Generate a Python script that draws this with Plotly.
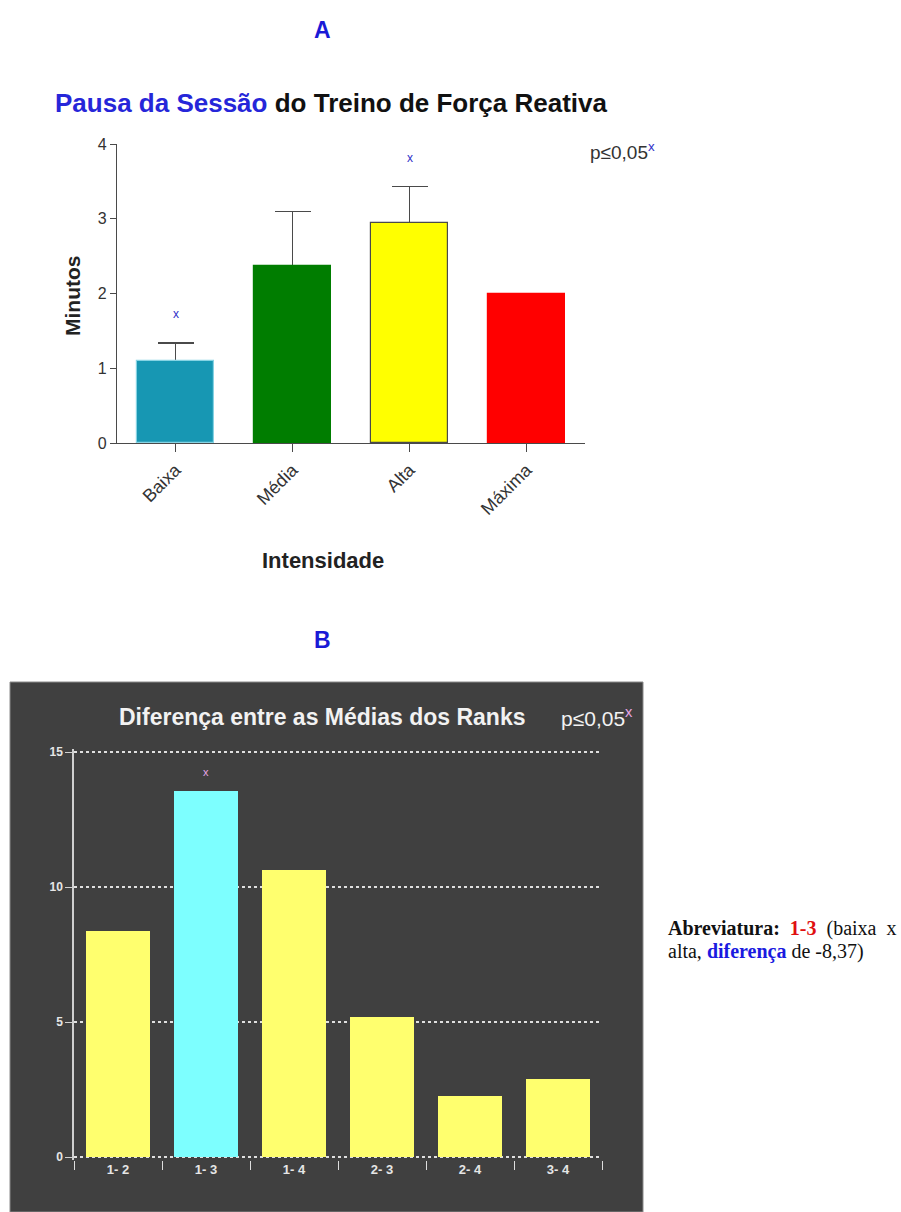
import plotly.graph_objects as go

W, H = 901, 1212

# ---- Panel A: session rest by intensity ----
intensidades = ["Baixa", "Média", "Alta", "Máxima"]
minutos = [1.10, 2.37, 2.94, 2.00]
erro_sup = [0.24, 0.73, 0.49, None]
cores_a = ["#1797b3", "#007d00", "#ffff00", "#ff0000"]
contorno_a = ["#86d3e3", "#007d00", "#4a4a4a", "#ff0000"]
signif_a = [True, False, True, False]

# ---- Panel B: differences between mean ranks ----
pares = ["1- 2", "1- 3", "1- 4", "2- 3", "2- 4", "3- 4"]
diferencas = [8.37, 13.58, 10.63, 5.19, 2.27, 2.89]
cores_b = ["#ffff6e", "#7dffff", "#ffff6e", "#ffff6e", "#ffff6e", "#ffff6e"]
signif_b = [False, True, False, False, False, False]

FONT = "Liberation Sans, Arial, sans-serif"
SERIF = "Liberation Serif, Times New Roman, serif"


def px(xp):
    return xp / W


def py(yp):
    return 1 - yp / H


def note(x, y, text, size, color, **kw):
    d = dict(x=px(x), y=py(y), xref="paper", yref="paper", text=text,
             showarrow=False, xanchor="center", yanchor="middle",
             font=dict(family=kw.pop("family", FONT), size=size, color=color))
    d.update(kw)
    return d


fig = go.Figure()

# error bars sit on a transparent copy so the coloured bars hide the lower cap
fig.add_trace(go.Bar(
    x=intensidades,
    y=[v if e is not None else None for v, e in zip(minutos, erro_sup)],
    width=0.66,
    marker=dict(color="rgba(0,0,0,0)", line=dict(width=0)),
    error_y=dict(type="data", symmetric=False,
                 array=[e if e is not None else 0 for e in erro_sup],
                 arrayminus=[0] * len(minutos),
                 color="#4a4a4a", thickness=1.3, width=18),
    xaxis="x", yaxis="y", showlegend=False, hoverinfo="skip",
))
fig.add_trace(go.Bar(
    x=intensidades, y=minutos, width=0.66,
    marker=dict(color=cores_a, line=dict(color=contorno_a, width=1.2)),
    xaxis="x", yaxis="y", showlegend=False,
))

fig.add_trace(go.Bar(
    x=pares, y=diferencas, width=0.72,
    marker=dict(color=cores_b, line=dict(width=0)),
    xaxis="x2", yaxis="y2", showlegend=False,
))

annotations = []

# significance marks, panel A (above the error bar)
for cat, v, e, s in zip(intensidades, minutos, erro_sup, signif_a):
    if s:
        annotations.append(dict(
            x=cat, y=v + (e or 0), xref="x", yref="y", text="x",
            showarrow=False, xanchor="center", yanchor="bottom", yshift=20,
            font=dict(family=FONT, size=12, color="#3030c8"),
        ))

# significance marks, panel B
for cat, v, s in zip(pares, diferencas, signif_b):
    if s:
        annotations.append(dict(
            x=cat, y=v, xref="x2", yref="y2", text="x",
            showarrow=False, xanchor="center", yanchor="bottom", yshift=10,
            font=dict(family=FONT, size=11, color="#e6a6e6"),
        ))

annotations += [
    note(322, 30, "<b>A</b>", 23, "#1a1ad6"),
    note(331, 103,
         "<b><span style='color:#2626d9'>Pausa da Sessão</span> do Treino de Força Reativa</b>",
         26, "#111111"),
    note(588, 151, "p≤0,05<sup><span style='color:#3030c8'>x</span></sup>", 19, "#333333",
         xanchor="left"),
    note(72, 296, "<b>Minutos</b>", 21, "#222222", textangle=-90),
    note(323, 560, "<b>Intensidade</b>", 22, "#222222"),
    note(322, 640, "<b>B</b>", 23, "#1a1ad6"),
    note(322, 717, "<b>Diferença entre as Médias dos Ranks</b>", 23, "#f2f2f2"),
    note(559, 717, "p≤0,05<sup><span style='color:#e6a6e6'>x</span></sup>", 21, "#f2f2f2",
         xanchor="left"),
    note(666, 928,
         "<b>Abreviatura:</b>&nbsp; <b><span style='color:#e01010'>1-3</span></b>&nbsp; "
         "(baixa&nbsp; x",
         20, "#111111", family=SERIF, xanchor="left", align="left"),
    note(666, 951,
         "alta, <b><span style='color:#1a1ae0'>diferença</span></b> de -8,37)",
         20, "#111111", family=SERIF, xanchor="left", align="left"),
]

# panel B y range padded slightly so the 0 and 15 dotted lines are drawn
ypad = 0.12
unit_b = (1157 - 752) / 15.0

fig.update_layout(
    width=W, height=H,
    margin=dict(l=0, r=0, t=0, b=0, pad=0, autoexpand=False),
    paper_bgcolor="white",
    plot_bgcolor="rgba(0,0,0,0)",
    barmode="overlay",
    bargap=0,
    annotations=annotations,
    shapes=[dict(type="rect", xref="paper", yref="paper", layer="below",
                 x0=px(10), x1=px(643), y0=py(1212), y1=py(682),
                 fillcolor="#404040", line=dict(color="#8a8a8a", width=1))],
    xaxis=dict(
        domain=[px(117), px(585)], range=[-0.5, 3.5], anchor="y", automargin=False,
        showline=True, linecolor="#4a4a4a", linewidth=1.3,
        ticks="outside", ticklen=8, tickcolor="#4a4a4a", tickwidth=1.2,
        tickangle=-45, showgrid=False, zeroline=False,
        tickfont=dict(family=FONT, size=18, color="#333333"),
    ),
    yaxis=dict(
        domain=[py(443.3), py(144)], range=[0, 4], anchor="x", automargin=False,
        tickvals=[0, 1, 2, 3, 4],
        showline=True, linecolor="#4a4a4a", linewidth=1.3,
        ticks="outside", ticklen=6, tickcolor="#4a4a4a", tickwidth=1.2,
        showgrid=False, zeroline=False,
        tickfont=dict(family=FONT, size=16, color="#333333"),
    ),
    xaxis2=dict(
        domain=[px(74), px(602)], range=[-0.5, 5.5], anchor="y2", automargin=False,
        tickvals=pares, ticktext=["<b>%s</b>" % p for p in pares],
        showline=False, ticks="outside", tickson="boundaries", ticklen=9,
        tickcolor="#dddddd", tickwidth=1.3, showgrid=False, zeroline=False,
        tickfont=dict(family=FONT, size=13, color="#e6e6e6"),
    ),
    yaxis2=dict(
        domain=[py(1157 + ypad * unit_b), py(752 - ypad * unit_b)],
        range=[-ypad, 15 + ypad], anchor="x2", automargin=False,
        tickvals=[0, 5, 10, 15], ticktext=["<b>0</b>", "<b>5</b>", "<b>10</b>", "<b>15</b>"],
        showline=True, linecolor="#d0d0d0", linewidth=1.5,
        ticks="outside", ticklen=7, tickcolor="#d0d0d0", tickwidth=1.2,
        showgrid=True, gridcolor="#e0e0e0", griddash="dot", gridwidth=1.5,
        zeroline=False,
        tickfont=dict(family=FONT, size=12, color="#e6e6e6"),
    ),
)

fig.write_html("out.html")
